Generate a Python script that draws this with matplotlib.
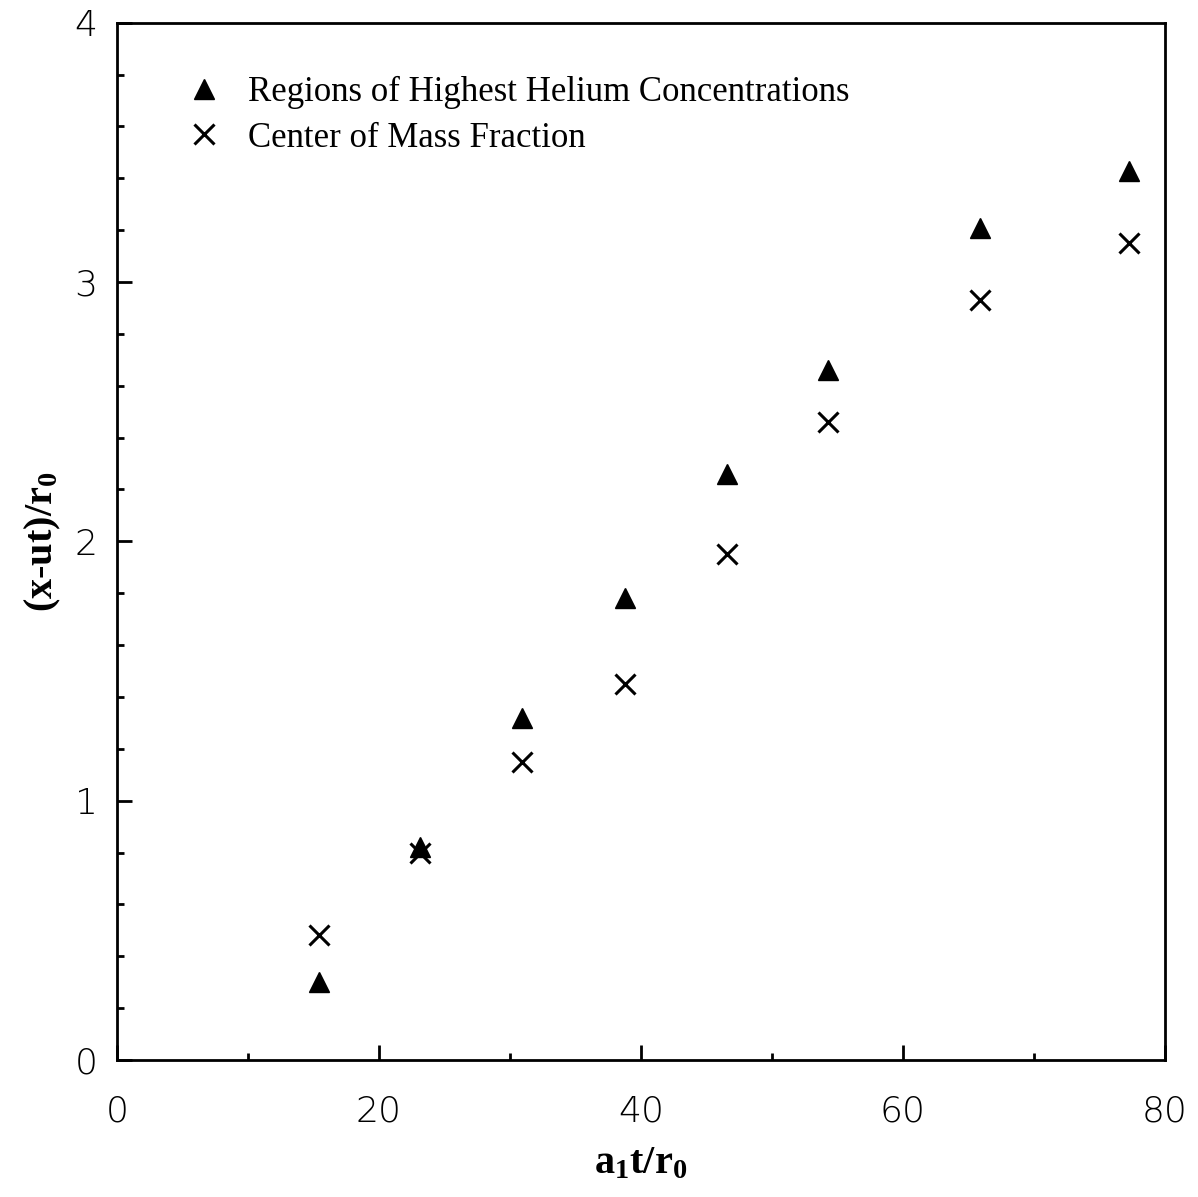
import matplotlib
matplotlib.use("Agg")
import matplotlib.pyplot as plt
from matplotlib.ticker import MultipleLocator

# Normalised time a1*t/r0 at each sampled instant
time_norm = [15.4, 23.1, 30.9, 38.8, 46.6, 54.3, 65.9, 77.3]

# Streamwise position (x-ut)/r0 of the helium peaks and of the mass-fraction centroid
peak_helium = [0.30, 0.82, 1.32, 1.78, 2.26, 2.66, 3.21, 3.43]
mass_center = [0.48, 0.80, 1.15, 1.45, 1.95, 2.46, 2.93, 3.15]

series_labels = ["Regions of Highest Helium Concentrations",
                 "Center of Mass Fraction"]

xlim = (0, 80)
ylim = (0, 4)

# Bold serif for the mathtext subscripts in the axis titles
plt.rcParams["mathtext.fontset"] = "custom"
plt.rcParams["mathtext.rm"] = "Liberation Serif:bold"
plt.rcParams["mathtext.it"] = "Liberation Serif:bold"
plt.rcParams["mathtext.bf"] = "Liberation Serif:bold"

serif = ["Liberation Serif", "DejaVu Serif"]
sans = ["DejaVu Sans"]

fig = plt.figure(figsize=(11.98, 11.97), dpi=100)
ax = fig.add_axes([0.0977, 0.1145, 0.8745, 0.8665])

ax.plot(time_norm, peak_helium, linestyle="none", marker="^", ms=14,
        color="black", label=series_labels[0])
ax.plot(time_norm, mass_center, linestyle="none", marker="x", ms=14,
        mew=2.2, color="black", label=series_labels[1])

ax.set_xlim(*xlim)
ax.set_ylim(*ylim)

ax.xaxis.set_major_locator(MultipleLocator(20))
ax.xaxis.set_minor_locator(MultipleLocator(10))
ax.yaxis.set_major_locator(MultipleLocator(1))
ax.yaxis.set_minor_locator(MultipleLocator(0.2))

ax.tick_params(which="both", direction="in", top=False, right=False, width=2)
ax.tick_params(which="major", length=11)
ax.tick_params(which="minor", length=5)
ax.tick_params(axis="x", which="major", pad=25)
ax.tick_params(axis="y", which="major", pad=14)

for lbl in ax.get_xticklabels() + ax.get_yticklabels():
    lbl.set_fontfamily(sans)
    lbl.set_fontweight("light")
    lbl.set_fontsize(26)

for sp in ax.spines.values():
    sp.set_linewidth(2)

ax.set_xlabel(r"a$_1$t/r$_0$", fontfamily=serif, fontweight="bold",
              fontsize=29, labelpad=12)
ax.set_ylabel(r"(x-ut)/r$_0$", fontfamily=serif, fontweight="bold",
              fontsize=29, labelpad=8)

leg = ax.legend(loc="upper left", bbox_to_anchor=(0.053, 0.962), frameon=False,
                prop={"family": serif, "size": 25}, handlelength=1.0,
                handletextpad=0.78, labelspacing=0.36, borderaxespad=0)

fig.savefig("out.png", dpi=100, facecolor="white")
